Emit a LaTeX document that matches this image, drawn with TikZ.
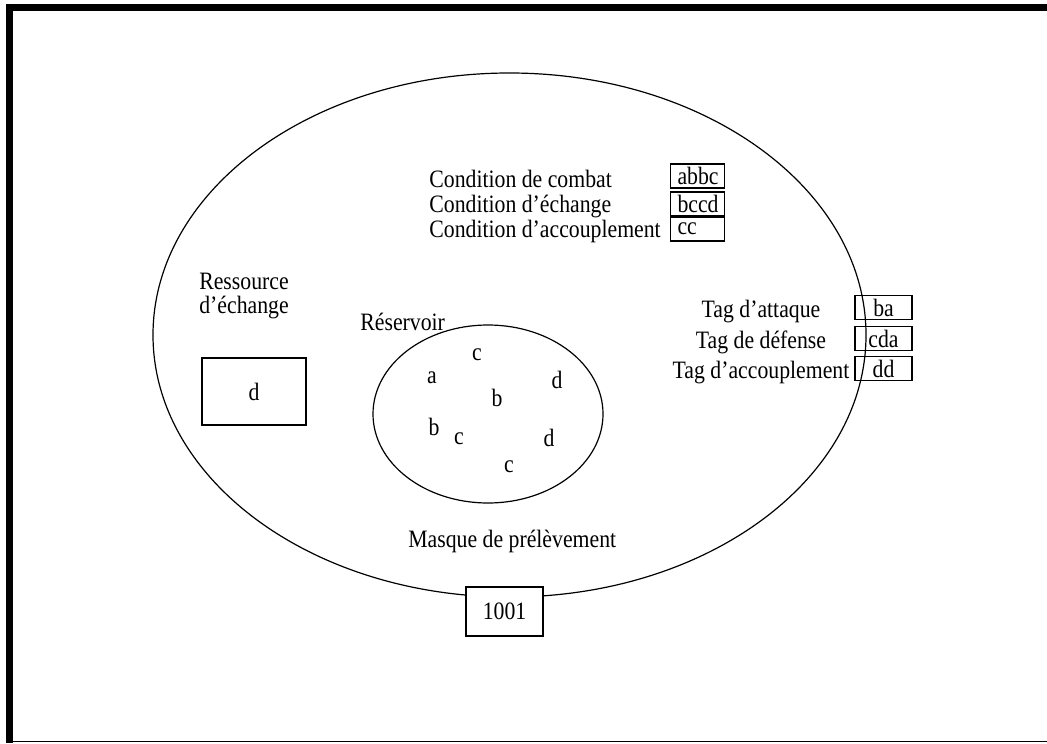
\documentclass[tikz,border=0pt]{standalone}
\usepackage{fontspec}
\setmainfont{Liberation Serif}[FakeStretch=0.87]
\usetikzlibrary{positioning,shapes.geometric}

\newcommand{\slotleft}[1]{\makebox[20pt][l]{#1}}

\begin{document}
\begin{tikzpicture}[x=0.5pt,y=-0.5pt,
    font=\fontsize{12.5}{12}\selectfont,
    txt/.style={inner sep=0pt},
    condbox/.style={draw,line width=0.6pt,minimum height=12pt,minimum width=27pt,inner sep=0pt},
    tagbox/.style={draw,line width=0.6pt,minimum height=12pt,minimum width=28.5pt,inner sep=0pt},
    zone/.style={ellipse,draw,line width=0.6pt,inner sep=0pt}]

        % Define parameters
        \def\framew{3.4pt}   % Width of the heavy frame
        \def\condx{429}      % Left edge of the condition labels
        \def\tagx{761}       % Centre of the tag labels

        % Fix the page to the size of the picture
        \useasboundingbox (0,0) rectangle (1047,743);

        % Frame (left and top heavy, bottom thin)
        \draw[line width=\framew] (9.35,743) -- (9.35,7.5) -- (1047,7.5);
        \draw[line width=0.6pt] (12,741.5) -- (1047,741.5);

        % The two zones
        \node[zone,minimum width=356.5pt,minimum height=262pt] (organisme) at (509.5,335) {};
        \node[zone,minimum width=115pt,minimum height=89pt] (reservoir) at (488,414) {};

        % Conditions
        \node[txt,anchor=base west] (condcombat) at (\condx,187) {Condition de combat};
        \node[txt,anchor=base west] (condechange) at (\condx,213) {Condition d'échange};
        \node[txt,anchor=base west] (condaccoupl) at (\condx,237) {Condition d'accouplement};
        \node[condbox] (combat) at (697.5,176) {\slotleft{abbc}};
        \node[condbox] (echange) at (697.5,204) {\slotleft{bccd}};
        \node[condbox] (accoupl) at (697.5,229) {\slotleft{cc}};

        % Tags
        \node[txt,anchor=base] (tagattaque) at (\tagx,317) {Tag d'attaque};
        \node[txt,anchor=base] (tagdefense) at (\tagx,348) {Tag de défense};
        \node[txt,anchor=base] (tagaccoupl) at (\tagx,378) {Tag d'accouplement};
        \node[tagbox] (attaque) at (883.5,307.5) {ba};
        \node[tagbox] (defense) at (883.5,338.5) {cda};
        \node[tagbox] (accouplb) at (883.5,368.5) {dd};

        % Exchange resource
        \node[txt,align=center,anchor=base] (ressource) at (244,313) {Ressource\\d'échange};
        \node[draw,line width=0.6pt,minimum width=52pt,minimum height=33.5pt] (echangebox) at (254,391.5) {d};

        % Reservoir and its contents
        \node[txt,anchor=base west] (reservoirlbl) at (360,330) {Réservoir};
        \foreach \name/\px/\py/\ch in {c1/477/355/c, a1/432/378/a, d1/557/380/d, b1/497/398/b,
                                      b2/434/427/b, c2/459/439/c, d2/549/437.5/d, c3/509/467/c} {
            \node[txt] (\name) at (\px,\py) {\ch};
        }

        % Sampling mask
        \node[txt,anchor=base west] (masquelbl) at (408,547) {Masque de prélèvement};
        \node[draw,line width=0.6pt,fill=white,minimum width=38.5pt,minimum height=24.5pt] (masque) at (504.5,611.5) {1001};

    \end{tikzpicture}
\end{document}
